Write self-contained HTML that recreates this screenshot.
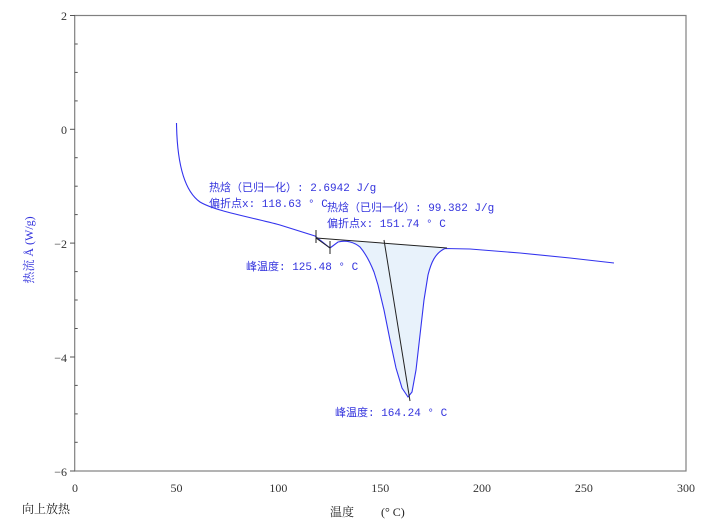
<!DOCTYPE html>
<html><head><meta charset="utf-8"><style>
body{margin:0;background:#fff;}
svg{display:block;}
text{font-family:"Liberation Serif","Noto Serif CJK SC","Noto Sans CJK SC",serif;}
.m text{font-family:"Liberation Mono","Noto Sans CJK SC",monospace;}
</style></head><body>
<svg width="720" height="522" viewBox="0 0 720 522" xmlns="http://www.w3.org/2000/svg">
<rect x="74.7" y="15.5" width="611.3" height="455.5" fill="none" stroke="#808080" stroke-width="1.2"/>
<g stroke="#555" stroke-width="1">
<line x1="70" y1="15.5" x2="75" y2="15.5"/><line x1="70" y1="129.3" x2="75" y2="129.3"/><line x1="70" y1="243.1" x2="75" y2="243.1"/><line x1="70" y1="357" x2="75" y2="357"/><line x1="70" y1="471" x2="75" y2="471"/>
<line x1="74.7" y1="44" x2="77.7" y2="44"/><line x1="74.7" y1="72.4" x2="77.7" y2="72.4"/><line x1="74.7" y1="100.9" x2="77.7" y2="100.9"/>
<line x1="74.7" y1="157.7" x2="77.7" y2="157.7"/><line x1="74.7" y1="186.2" x2="77.7" y2="186.2"/><line x1="74.7" y1="214.6" x2="77.7" y2="214.6"/>
<line x1="74.7" y1="271.6" x2="77.7" y2="271.6"/><line x1="74.7" y1="300" x2="77.7" y2="300"/><line x1="74.7" y1="328.5" x2="77.7" y2="328.5"/>
<line x1="74.7" y1="385.4" x2="77.7" y2="385.4"/><line x1="74.7" y1="413.9" x2="77.7" y2="413.9"/><line x1="74.7" y1="442.3" x2="77.7" y2="442.3"/>
</g>
<g stroke="#555" stroke-width="1" id="xt"></g>
<g font-size="12" fill="#333" text-anchor="end">
<text x="67" y="20">2</text><text x="67" y="134">0</text><text x="67" y="248">−2</text><text x="67" y="362">−4</text><text x="67" y="476">−6</text>
</g>
<g font-size="12" fill="#333" text-anchor="middle">
<text x="75" y="492">0</text><text x="176.5" y="492">50</text><text x="278.4" y="492">100</text><text x="380.2" y="492">150</text><text x="482" y="492">200</text><text x="583.9" y="492">250</text><text x="686" y="492">300</text>
</g>
<text x="22" y="513" font-size="12" fill="#222">向上放热</text>
<text x="330" y="516" font-size="12" fill="#222">温度　　 (° C)</text>
<text transform="translate(33,250) rotate(-90)" text-anchor="middle" font-size="12" fill="#3333dd">热流 Å (W/g)</text>
<path d="M345,241 L358,246 L366,254 L372,266 L378,285 L384,310 L390,340 L396,368 L402,388 L408,397 L412,392 L416,370 L420,335 L424,300 L428,275 L433,260 L440,251 L447,248 Z" fill="#e8f2fb"/>
<path d="M176.5,123 C177,160 183,190 200,202 C215,211 250,217 280,225 L315,236 L330,248 L338,242 C346,240 354,242 360,247 C366,254 370,262 374,272 L378,285 L384,310 L390,340 L396,368 L402,388 L408,397 L412,392 L416,370 L420,335 L424,300 L428,275 C431,263 435,253 445,248.5 L470,249 L520,253 L570,258 L614,263" fill="none" stroke="#3333ee" stroke-width="1.1"/>
<g stroke="#222" stroke-width="1">
<line x1="316" y1="238" x2="447" y2="248"/>
<line x1="316" y1="230" x2="316" y2="243"/>
<line x1="330" y1="241" x2="330" y2="254"/>
<line x1="384" y1="240" x2="410" y2="401"/>
<line x1="316" y1="238" x2="330" y2="248"/>
</g>
<g font-size="11" fill="#3333dd" class="m">
<text x="209" y="191">热焓（已归一化）: 2.6942 J/g</text>
<text x="209" y="207">偏折点x: 118.63 ° C</text>
<text x="327" y="211">热焓（已归一化）: 99.382 J/g</text>
<text x="327" y="227">偏折点x: 151.74 ° C</text>
<text x="246" y="270">峰温度: 125.48 ° C</text>
<text x="335" y="416">峰温度: 164.24 ° C</text>
</g>
<script>
var g=document.getElementById('xt'),s='';
for(var t=0;t<=300;t+=10){var x=74.7+2.0377*t;var big=t%50==0;s+='<line x1="'+x+'" y1="'+(big?471:468)+'" x2="'+x+'" y2="'+(big?476:471)+'"/>';}
g.innerHTML=s;
</script>
</svg>
</body></html>
